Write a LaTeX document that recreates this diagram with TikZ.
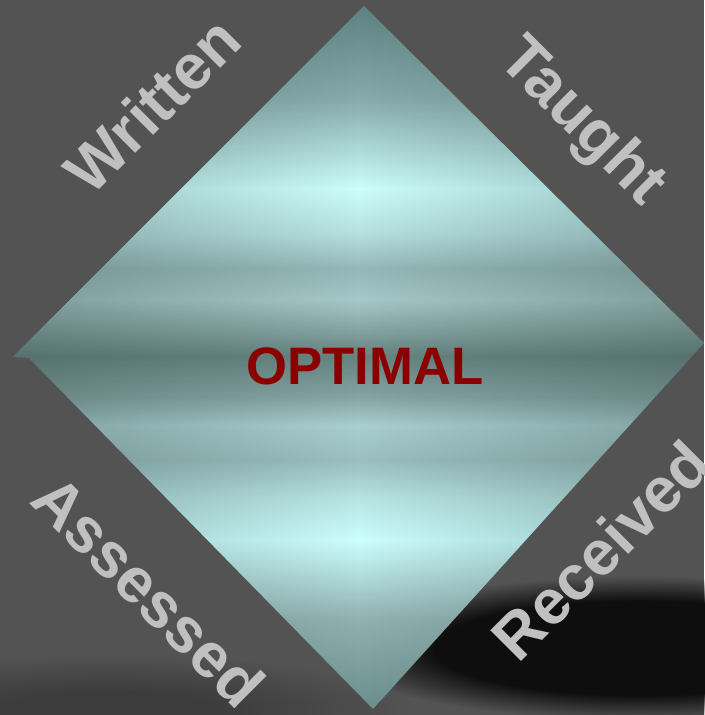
\documentclass[tikz,border=0pt]{standalone}
\usepackage{fontspec}
\setmainfont{Liberation Sans}
\usepackage{xcolor}
\usepackage{tikz}
\usetikzlibrary{fadings}

\definecolor{bggray}{HTML}{535353}
\definecolor{lblgray}{HTML}{C0C0C0}
\definecolor{optred}{HTML}{8A0000}
\definecolor{shadowblack}{HTML}{0E0E0E}
\definecolor{shadowgray}{HTML}{2E2E2E}
\definecolor{edgeteal}{HTML}{3C5654}
\definecolor{dmA}{HTML}{6A8F8D}
\definecolor{dmB}{HTML}{8FB0AE}
\definecolor{dmC}{HTML}{CCFFFF}
\definecolor{dmD}{HTML}{B8E5E4}
\definecolor{dmE}{HTML}{9ABFBE}
\definecolor{dmF}{HTML}{A9CFCF}
\definecolor{dmG}{HTML}{85A4A3}
\definecolor{dmH}{HTML}{65837F}
\definecolor{dmI}{HTML}{84A4A2}
\definecolor{dmJ}{HTML}{A5C9C8}
\definecolor{dmK}{HTML}{94B8B7}
\definecolor{dmL}{HTML}{B5E0DF}
\definecolor{dmM}{HTML}{CCFEFC}
\definecolor{dmN}{HTML}{86ABAA}
\definecolor{dmO}{HTML}{5E8281}

\pgfdeclareverticalshading{diamondshade}{100bp}{color(0bp)=(dmA); color(25bp)=(dmA);
  color(31.3bp)=(dmB); color(37bp)=(dmC); color(39.9bp)=(dmD); color(42.7bp)=(dmE);
  color(45.2bp)=(dmF); color(47.2bp)=(dmG); color(50.1bp)=(dmH); color(52bp)=(dmI);
  color(54.1bp)=(dmJ); color(56.3bp)=(dmK); color(58.8bp)=(dmL); color(62bp)=(dmM);
  color(68.4bp)=(dmN); color(75bp)=(dmO); color(100bp)=(dmO)}
\pgfdeclareradialshading{spotshade}{\pgfpoint{0bp}{0bp}}{color(0bp)=(white);
  color(15bp)=(white); color(23bp)=(black); color(50bp)=(black)}
\pgfdeclarefading{softspot}{\pgfuseshading{spotshade}}
\pgfdeclareradialshading{dimspotshade}{\pgfpoint{0bp}{0bp}}{color(0bp)=(gray!80);
  color(8bp)=(gray!80); color(23bp)=(black); color(50bp)=(black)}
\pgfdeclarefading{dimspot}{\pgfuseshading{dimspotshade}}
\tikzfading[name=sidefade, left color=transparent!62, right color=transparent!62,
  middle color=transparent!100]

\begin{document}
\begin{tikzpicture}[x=0.02cm, y=0.02cm,
    lbl/.style={text=lblgray, font=\fontsize{36}{36}\selectfont\bfseries, inner sep=0pt},
    core/.style={text=optred, font=\fontsize{30}{30}\selectfont\bfseries, inner sep=0pt}
]
    \fill[bggray] (0,0) rectangle (704,715);
    \useasboundingbox (0,0) rectangle (704,715);

    % floor shadows
    \fill[shadowgray, path fading=dimspot] (110,5) ellipse [x radius=330, y radius=60];
    \fill[shadowblack, path fading=softspot] (640,67) ellipse [x radius=340, y radius=78];

    \coordinate (top) at (364,709);
    \coordinate (right) at (704,372);
    \coordinate (bottom) at (373,6);
    \coordinate (notch) at (29,357);
    \coordinate (left) at (13,358);

    \shade[shading=diamondshade] (top) -- (right) -- (bottom) -- (notch) -- (left) -- cycle;
    \fill[edgeteal, path fading=sidefade] (top) -- (right) -- (bottom) -- (notch) -- (left) -- cycle;

    \node[core] (optimal) at (365,349) {OPTIMAL};

    \node[lbl, rotate=45] (written) at (152,610) {Written};
    \node[lbl, rotate=-45] (taught) at (581,592) {Taught};
    \node[lbl, rotate=-45] (assessed) at (149,124) {Assessed};
    \node[lbl, rotate=45] (received) at (601,165) {Received};
\end{tikzpicture}
\end{document}
